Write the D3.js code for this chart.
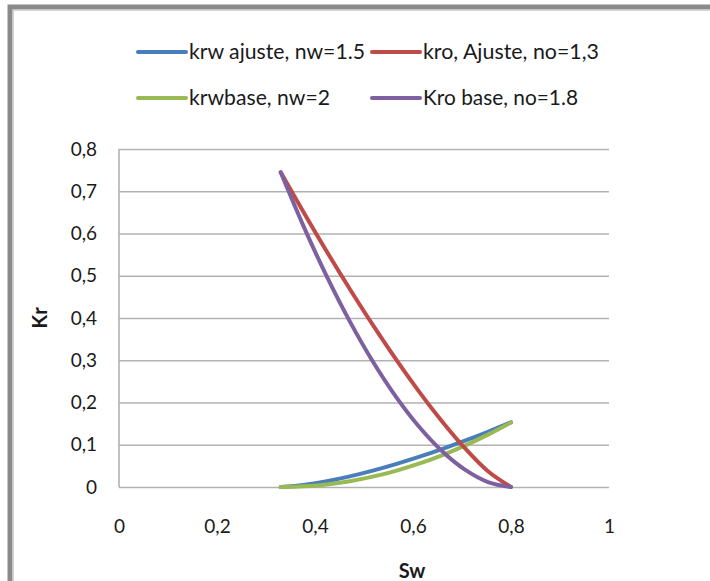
<!DOCTYPE html>
<html>
<head>
<meta charset="utf-8">
<script src="https://cdn.jsdelivr.net/npm/d3@7"></script>
<style>
  html, body { margin: 0; padding: 0; background: #fff; }
  svg { display: block; }
  text { font-family: Lato, "Noto Sans", sans-serif; fill: #1a1a1a; }
</style>
</head>
<body>
<svg id="chart" width="710" height="581"></svg>
<script>
// Water saturation (Sw) sample points
const sw = [0.33, 0.377, 0.424, 0.471, 0.518, 0.565, 0.612, 0.659, 0.706, 0.753, 0.80];

// Relative permeability curves
const krwAjuste = [0, 0.0048, 0.0137, 0.0251, 0.0387, 0.0541, 0.0711, 0.0896, 0.1095, 0.1306, 0.153];
const kroAjuste = [0.745, 0.6497, 0.5574, 0.4686, 0.3835, 0.3026, 0.2264, 0.1558, 0.0919, 0.0373, 0];
const krwBase   = [0, 0.0015, 0.0061, 0.0138, 0.0245, 0.0383, 0.0551, 0.0750, 0.0979, 0.1239, 0.153];
const kroBase   = [0.745, 0.6163, 0.4985, 0.3920, 0.2970, 0.2140, 0.1432, 0.0853, 0.0411, 0.0118, 0];

const seriesNames  = ["krw ajuste, nw=1.5", "kro, Ajuste, no=1,3", "krwbase, nw=2", "Kro base, no=1.8"];
const seriesValues = [krwAjuste, kroAjuste, krwBase, kroBase];
const seriesColors = ["#4a7ebb", "#be4b48", "#98b954", "#7d60a0"];

const yTicks = [0, 0.1, 0.2, 0.3, 0.4, 0.5, 0.6, 0.7, 0.8];
const xTicks = [0, 0.2, 0.4, 0.6, 0.8, 1];

const svg = d3.select("#chart");

// Outer frame (thick grey edge along top and left)
svg.append("rect").attr("x", 10).attr("y", 7).attr("width", 720).attr("height", 600)
  .attr("fill", "#fff").attr("stroke", "#8a8a8a").attr("stroke-width", 5);
svg.append("rect").attr("x", 13.5).attr("y", 10.5).attr("width", 720).attr("height", 600)
  .attr("fill", "none").attr("stroke", "#d4d4d4").attr("stroke-width", 1);

const plot = { left: 119, right: 609, top: 149, bottom: 487 };
const x = d3.scaleLinear().domain([0, 1]).range([plot.left, plot.right]);
const y = d3.scaleLinear().domain([0, 0.8]).range([plot.bottom, plot.top]);
const fmt = d => String(+d.toFixed(1)).replace(".", ",");

// Horizontal gridlines + y labels
const yAxis = svg.append("g").attr("transform", `translate(${plot.left},0)`)
  .call(d3.axisLeft(y).tickValues(yTicks).tickFormat(fmt)
    .tickSize(-(plot.right - plot.left)).tickPadding(22));
yAxis.select(".domain").remove();
yAxis.selectAll(".tick line").attr("stroke", "#b2b2b2").attr("stroke-width", 1.6);
yAxis.selectAll(".tick text").attr("font-size", 19).attr("fill", "#1a1a1a");

// Vertical axis line
svg.append("line").attr("x1", plot.left).attr("x2", plot.left)
  .attr("y1", plot.top).attr("y2", plot.bottom)
  .attr("stroke", "#b2b2b2").attr("stroke-width", 1.6);

// X labels (no tick marks)
const xAxis = svg.append("g").attr("transform", `translate(0,${plot.bottom})`)
  .call(d3.axisBottom(x).tickValues(xTicks).tickFormat(fmt).tickSize(0).tickPadding(33));
xAxis.select(".domain").remove();
xAxis.selectAll(".tick text").attr("font-size", 19).attr("fill", "#1a1a1a");

// Axis titles
svg.append("text").attr("x", 412).attr("y", 578).attr("text-anchor", "middle")
  .attr("font-size", 20).attr("font-weight", "bold").text("Sw");
svg.append("text").attr("transform", "translate(47,318) rotate(-90)").attr("text-anchor", "middle")
  .attr("font-size", 20).attr("font-weight", "bold").text("Kr");

// Curves
const line = d3.line().x(d => x(d[0])).y(d => y(d[1])).curve(d3.curveCatmullRom.alpha(0.5));
const drawOrder = [0, 2, 1, 3];
drawOrder.forEach(i => {
  svg.append("path")
    .datum(sw.map((s, j) => [s, seriesValues[i][j]]))
    .attr("fill", "none").attr("stroke", seriesColors[i])
    .attr("stroke-width", 4).attr("stroke-linecap", "round").attr("stroke-linejoin", "round")
    .attr("d", line);
});

// Legend
const legendPos = [[138, 52], [372, 52], [138, 98], [372, 98]];
const legendWidths = [176, 176, 141, 155];
seriesNames.forEach((name, i) => {
  const [lx, ly] = legendPos[i];
  svg.append("line").attr("x1", lx).attr("x2", lx + 48).attr("y1", ly).attr("y2", ly)
    .attr("stroke", seriesColors[i]).attr("stroke-width", 4).attr("stroke-linecap", "round");
  svg.append("text").attr("x", lx + 51).attr("y", ly + 7).attr("font-size", 21)
    .attr("textLength", legendWidths[i]).attr("lengthAdjust", "spacingAndGlyphs")
    .text(name);
});
</script>
</body>
</html>
